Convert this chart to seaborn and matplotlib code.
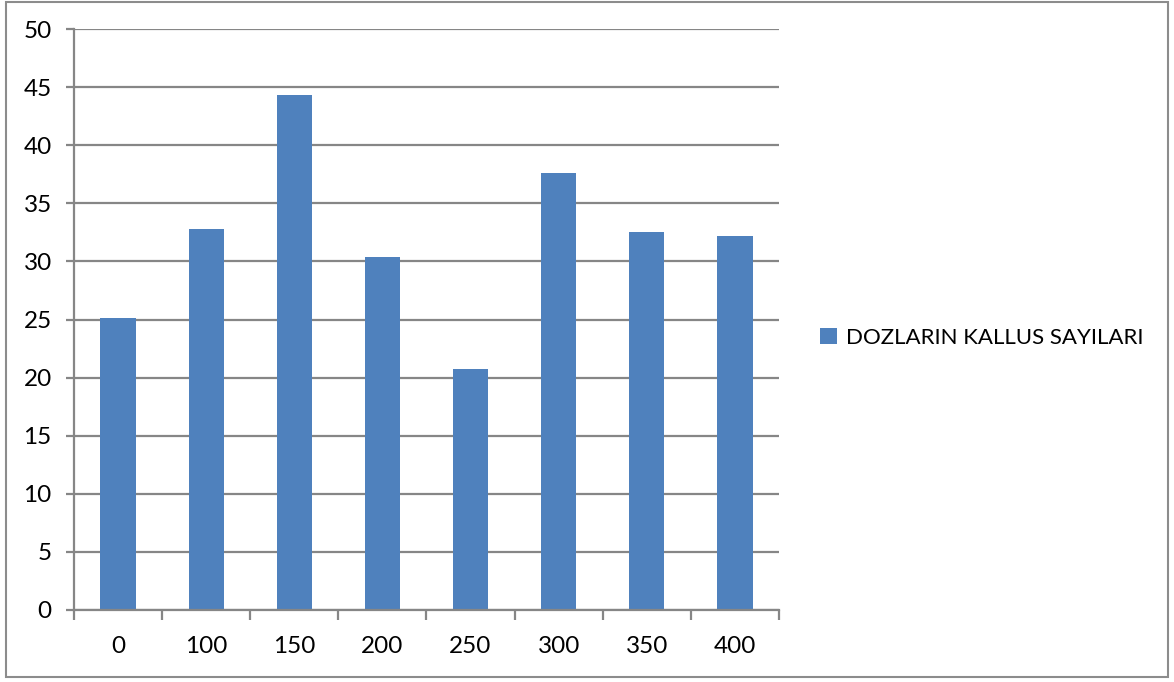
import matplotlib
matplotlib.use("Agg")
import matplotlib.pyplot as plt
from matplotlib.patches import Rectangle
import seaborn as sns
import pandas as pd

categories = ["0", "100", "150", "200", "250", "300", "350", "400"]
values = [25.1, 32.8, 44.3, 30.4, 20.7, 37.6, 32.5, 32.2]
series_name = "DOZLARIN KALLUS SAYILARI"
y_ticks = [0, 5, 10, 15, 20, 25, 30, 35, 40, 45, 50]

bar_color = "#4F81BD"
grid_color = "#868686"

sns.set_theme(style="white")
plt.rcParams["font.family"] = ["Lato", "DejaVu Sans"]

df = pd.DataFrame({"doz": categories, "sayi": values, "seri": series_name})

fig = plt.figure(figsize=(11.74, 6.82), dpi=100)
ax = fig.add_axes([74 / 1174, 1 - 610 / 682, (779 - 74) / 1174, (610 - 29) / 682])

sns.barplot(data=df, x="doz", y="sayi", hue="seri", palette=[bar_color],
            width=0.4, ax=ax, saturation=1, edgecolor="none", legend=True)

ax.set_ylim(0, 50)
ax.set_xlim(-0.5, len(categories) - 0.5)
ax.set_yticks(y_ticks)
ax.set_yticklabels([str(t) for t in y_ticks])
ax.yaxis.grid(True, color=grid_color, linewidth=1.6)
ax.set_axisbelow(True)
ax.set_xlabel("")
ax.set_ylabel("")

for side in ["top", "right"]:
    ax.spines[side].set_visible(False)
for side in ["left", "bottom"]:
    ax.spines[side].set_color(grid_color)
    ax.spines[side].set_linewidth(1.6)

ax.tick_params(axis="y", which="major", direction="out", length=6, width=1.6,
               color=grid_color, labelsize=17.5, pad=10, left=True)
ax.tick_params(axis="x", which="major", length=0, labelsize=17.5, pad=19)
ax.set_xticks([i - 0.5 for i in range(len(categories) + 1)], minor=True)
ax.tick_params(axis="x", which="minor", direction="out", length=7, width=1.6,
               color=grid_color, bottom=True)
for lbl in ax.get_xticklabels() + ax.get_yticklabels():
    lbl.set_color("#000000")

leg = ax.legend(loc="center left", bbox_to_anchor=(800 / 1174, 1 - 338 / 682),
                bbox_transform=fig.transFigure, frameon=False, fontsize=16,
                handlelength=0.75, handleheight=0.75, handletextpad=0.4)
for txt in leg.get_texts():
    txt.set_color("#000000")

fig.patches.append(Rectangle((6 / 1174, 5 / 682), 1162 / 1174, 675 / 682,
                             transform=fig.transFigure, fill=False,
                             edgecolor="#8c8c8c", linewidth=1.5))

fig.savefig("out.png", dpi=100, facecolor="white")
